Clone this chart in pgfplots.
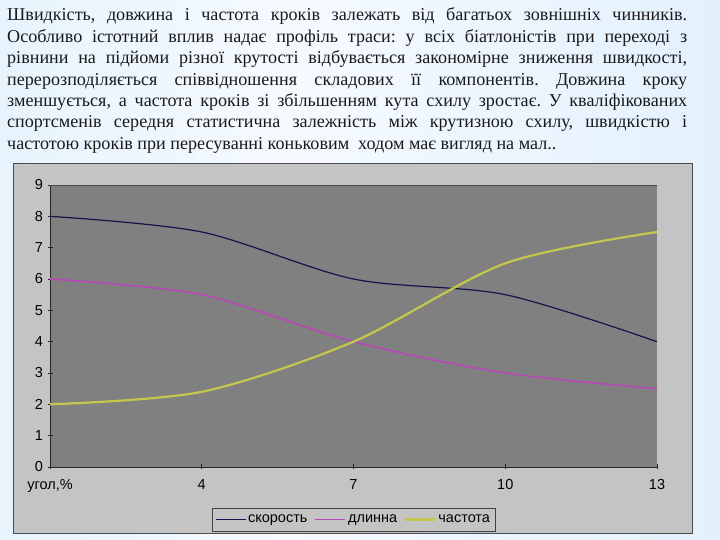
\documentclass[border=0pt]{standalone}
\usepackage{fontspec}
\setmainfont{Liberation Serif}
\newfontfamily\chartfont{Liberation Sans}
\usepackage{pgfplots}
\pgfplotsset{compat=1.18}
\definecolor{plotgray}{HTML}{808080}
\definecolor{framegray}{HTML}{C4C4C4}
\definecolor{speedc}{HTML}{14144A}
\definecolor{lengthc}{HTML}{B848B8}
\definecolor{freqc}{HTML}{C4C64E}
\definecolor{txt}{HTML}{1A1A1A}
\pgfdeclarehorizontalshading{slidebg}{100bp}{%
  rgb(0bp)=(0.69,0.84,0.95);
  rgb(4bp)=(0.85,0.93,0.98);
  rgb(45bp)=(0.96,0.98,1.0);
  rgb(80bp)=(0.88,0.94,0.99);
  rgb(96bp)=(0.74,0.87,0.96);
  rgb(100bp)=(0.68,0.84,0.95)}
\begin{document}
\frenchspacing
\begin{tikzpicture}[x=1pt,y=1pt]
\shade[shading=slidebg] (0,0) rectangle (720,540);
\node[anchor=north west, inner sep=0pt, text width=680pt, align=justify,
      font=\fontsize{18.1}{21.4}\selectfont, text=txt] at (7,534.3) {\strut
Швидкість, довжина і частота кроків залежать від багатьох зовнішніх чинників.\linebreak
Особливо істотний вплив надає профіль траси: у всіх біатлоністів при переході з\linebreak
рівнини на підйоми різної крутості відбувається закономірне зниження швидкості,\linebreak
перерозподіляється співвідношення складових її компонентів. Довжина кроку\linebreak
зменшується, а частота кроків зі збільшенням кута схилу зростає. У кваліфікованих\linebreak
спортсменів середня статистична залежність між крутизною схилу, швидкістю і\linebreak
частотою кроків при пересуванні коньковим\ \ ходом має вигляд на мал..};
\draw[fill=framegray, draw=black!70, line width=1pt] (13,6) rectangle (692,376);
\begin{axis}[
  at={(50pt,73pt)}, anchor=south west,
  scale only axis, width=607pt, height=282pt,
  xmin=0, xmax=4, ymin=0, ymax=9,
  xtick={0,1,2,3,4}, xticklabels={{угол,\%},4,7,10,13},
  ytick={0,1,2,3,4,5,6,7,8,9},
  axis lines*=left,
  axis line style={-, draw=black!85, line width=0.8pt},
  tick align=center, major tick length=5pt,
  tick style={draw=black!85, line width=0.6pt},
  axis background/.style={fill=plotgray},
  /pgf/number format/assume math mode=true,
  ticklabel style={font=\chartfont\fontsize{14.5}{16}\selectfont, text=black},
  xticklabel style={yshift=-6pt},
  yticklabel style={xshift=-1pt},
  extra description/.code={\draw[black!70, line width=0.8pt] (rel axis cs:0,1) -- (rel axis cs:1,1);},
  legend columns=3,
  legend style={at={(0.2664,-0.1445)}, anchor=north west, fill=framegray,
    draw=black!75, font=\chartfont\fontsize{14.5}{16}\selectfont,
    inner xsep=3pt, inner ysep=5pt,
    /tikz/every odd column/.append style={column sep=0pt},
    /tikz/every even column/.append style={column sep=5pt}},
  legend image code/.code={\draw[#1] (0pt,0pt) -- (30pt,0pt);},
]
\addplot[speedc, line width=1.2pt, smooth] coordinates {(0,8) (1,7.5) (2,6) (3,5.5) (4,4)};
\addlegendentry{скорость}
\addplot[lengthc, line width=1.6pt, smooth] coordinates {(0,6) (1,5.5) (2,4) (3,3) (4,2.5)};
\addlegendentry{длинна}
\addplot[freqc, line width=2.2pt, smooth] coordinates {(0,2) (1,2.4) (2,4) (3,6.5) (4,7.5)};
\addlegendentry{частота}
\end{axis}
\end{tikzpicture}
\end{document}
